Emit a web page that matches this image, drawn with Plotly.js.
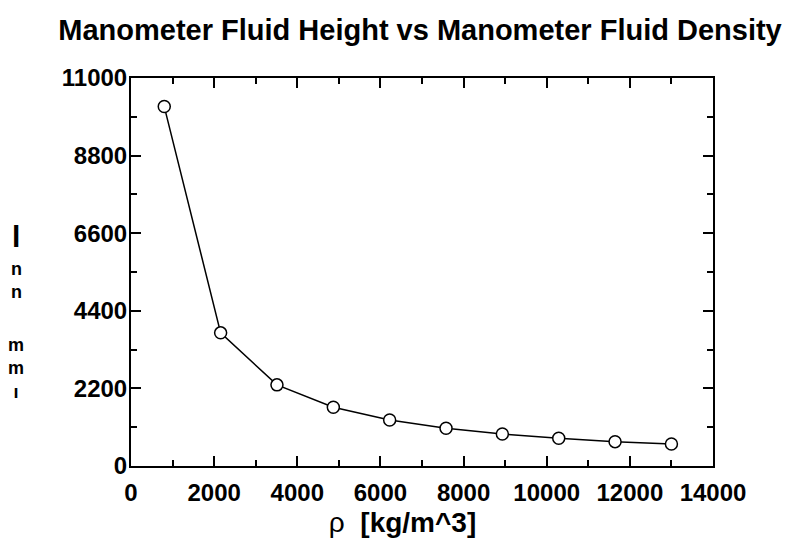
<!DOCTYPE html>
<html>
<head>
<meta charset="utf-8">
<script src="https://cdn.plot.ly/plotly-3.0.1.min.js"></script>
<style>html,body{margin:0;padding:0;background:#fff;}#chart{width:788px;height:544px;}</style>
</head>
<body>
<div id="chart"></div>
<script>
// Data
const density = [800, 2156, 3511, 4867, 6222, 7578, 8933, 10289, 11644, 13000];
const heightMm = [10190, 3775, 2300, 1668, 1306, 1072, 908, 785, 690, 624];
const xTickVals = [0, 2000, 4000, 6000, 8000, 10000, 12000, 14000];
const xTickText = ["0", "2000", "4000", "6000", "8000", "10000", "12000", "14000"];
const yTickVals = [0, 2200, 4400, 6600, 8800, 11000];
const yTickText = ["0", "2200", "4400", "6600", "8800", "11000"];
const yLabelParts = ["l", "n<br>n", "m<br>m<br>ı"];
const yLabelPartPx = [236, 280, 368];
const yLabelPartSize = [30, 18, 18];

const FONT = "Liberation Sans, Arial, Helvetica, sans-serif";
const plotTop = 78, plotBottom = 466, plotLeft = 131, plotRight = 713;

const trace = {
  x: density,
  y: heightMm,
  type: "scatter",
  mode: "lines+markers",
  line: {color: "#000", width: 1.5},
  marker: {symbol: "circle", size: 12, color: "#fff", line: {color: "#000", width: 1.5}},
  showlegend: false,
  hoverinfo: "x+y"
};

const annotations = yLabelParts.map((g, i) => ({
  text: "<b>" + g + "</b>",
  xref: "paper", yref: "paper",
  x: (16 - plotLeft) / (plotRight - plotLeft),
  y: (plotBottom - yLabelPartPx[i]) / (plotBottom - plotTop),
  xanchor: "center", yanchor: "middle",
  showarrow: false,
  font: {family: FONT, size: yLabelPartSize[i], color: "#000"}
}));

const axisCommon = {
  showline: true, linecolor: "#000", linewidth: 2, mirror: "ticks",
  ticks: "inside", ticklen: 10, tickwidth: 2, tickcolor: "#000",
  showgrid: false, zeroline: false,
  ticklabeloverflow: "allow",
  tickfont: {family: FONT, size: 24, color: "#000", weight: "bold"},
  minor: {ticks: "inside", ticklen: 6, tickwidth: 2, tickcolor: "#000", showgrid: false}
};

const layout = {
  width: 788, height: 544,
  margin: {l: plotLeft, r: 788 - plotRight, t: plotTop, b: 544 - plotBottom, pad: 0},
  paper_bgcolor: "#fff", plot_bgcolor: "#fff",
  title: {
    text: "<b>Manometer Fluid Height vs Manometer Fluid Density</b>",
    font: {family: FONT, size: 29, color: "#000"},
    x: 0.533, xanchor: "center", y: 0.945, yanchor: "middle"
  },
  xaxis: Object.assign({}, axisCommon, {
    range: [0, 14000],
    tickmode: "array", tickvals: xTickVals, ticktext: xTickText,
    minor: Object.assign({}, axisCommon.minor, {dtick: 1000, tick0: 0}),
    ticklabelstandoff: 4,
    title: {text: "ρ  <b>[kg/m^3]</b>&nbsp;&nbsp;&nbsp;&nbsp;&nbsp;", font: {family: FONT, size: 28, color: "#000"}, standoff: 8}
  }),
  yaxis: Object.assign({}, axisCommon, {
    range: [0, 11000],
    tickmode: "array", tickvals: yTickVals, ticktext: yTickText,
    minor: Object.assign({}, axisCommon.minor, {dtick: 1100, tick0: 0}),
    ticklabelstandoff: -3
  }),
  annotations: annotations
};

Plotly.newPlot("chart", [trace], layout, {displayModeBar: false, staticPlot: true});
</script>
</body>
</html>
